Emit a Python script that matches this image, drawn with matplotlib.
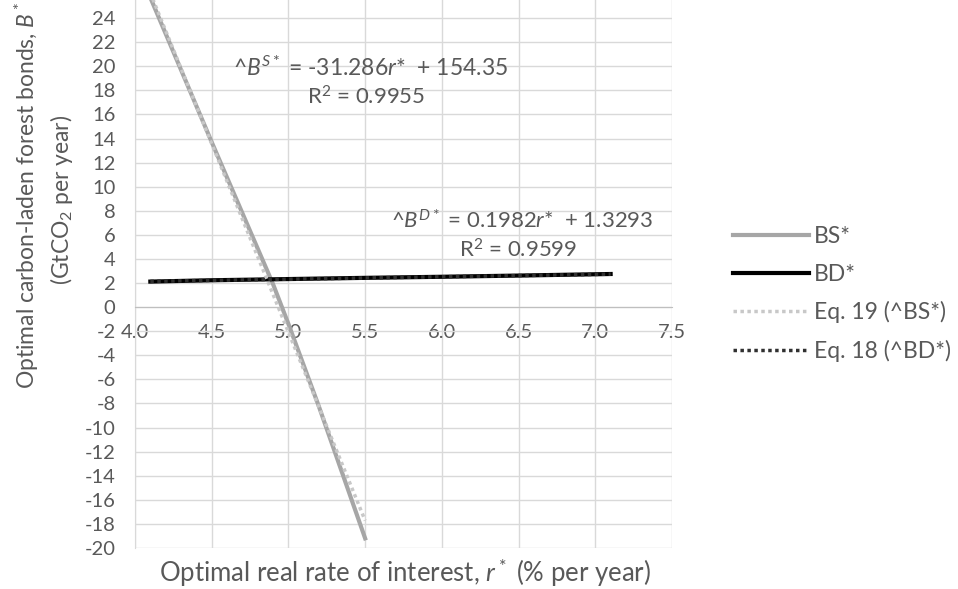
import matplotlib.pyplot as plt
import numpy as np

# tasa real de interes optima (r*) y bonos optimos (B*)
r_bs = [4.10, 4.30, 4.50, 4.70, 4.90, 5.00, 5.20, 5.50]
bs = [25.7, 19.7, 13.7, 7.8, 1.9, -1.4, -8.3, -19.2]

r_bd = [4.10, 4.50, 5.00, 5.50, 6.00, 6.50, 7.10]
bd = [2.12, 2.23, 2.33, 2.43, 2.52, 2.62, 2.75]

# coeficientes de las rectas ajustadas (Eq. 19 y Eq. 18)
bs_slope, bs_icpt, bs_r2 = -31.286, 154.35, 0.9955
bd_slope, bd_icpt, bd_r2 = 0.1982, 1.3293, 0.9599

x_ticks = [4.0, 4.5, 5.0, 5.5, 6.0, 6.5, 7.0, 7.5]
y_ticks = list(range(-20, 25, 2))

plt.rcParams['font.family'] = ['Lato', 'DejaVu Sans']
plt.rcParams['mathtext.fontset'] = 'custom'
plt.rcParams['mathtext.rm'] = 'Lato'
plt.rcParams['mathtext.it'] = 'Lato:italic'
plt.rcParams['axes.unicode_minus'] = False  # guion simple en los negativos
txt = '#595959'

fig = plt.figure(figsize=(9.58, 5.89), dpi=100)
ax = fig.add_axes([135 / 958, 1 - 548 / 589, (672 - 135) / 958, 548 / 589])

ax.plot(r_bs, bs, color='#a6a6a6', lw=3, label='BS*', zorder=3)
ax.plot(r_bd, bd, color='black', lw=3, label='BD*', zorder=3)

xf = np.array([r_bs[0], r_bs[-1]])
ax.plot(xf, bs_slope * xf + bs_icpt, color='#c8c8c8', lw=2.5,
        ls=(0, (1, 1)), label='Eq. 19 (^BS*)', zorder=4)
xf = np.array([r_bd[0], r_bd[-1]])
ax.plot(xf, bd_slope * xf + bd_icpt, color='#303030', lw=2.5,
        ls=(0, (1, 1)), label='Eq. 18 (^BD*)', zorder=4)

ax.set_xlim(4.0, 7.5)
ax.set_ylim(-20, 25.5)
ax.set_xticks(x_ticks)
ax.set_xticklabels([f'{v:.1f}' for v in x_ticks])
ax.set_yticks(y_ticks)
ax.grid(True, color='#d9d9d9', lw=1)
ax.set_axisbelow(True)

# eje x cruza en y = 0, como en Excel
ax.spines['bottom'].set_position(('data', 0))
ax.spines['bottom'].set_color('#bfbfbf')
ax.spines['left'].set_color('#d9d9d9')
ax.spines['top'].set_visible(False)
ax.spines['right'].set_visible(False)
ax.tick_params(axis='x', length=0, pad=12, labelsize=14.5, labelcolor=txt)
ax.tick_params(axis='y', length=0, pad=14, labelsize=14.5, labelcolor=txt)

# ecuaciones de las rectas
px = lambda x: 4.0 + (x - 135) / 153.4
py = lambda y: (307 - y) / 12.05
ax.text(px(370), py(68),
        f'^$B^{{S*}}$ = {bs_slope}$r$*  + {bs_icpt}',
        ha='center', va='center', fontsize=16.5, color=txt)
ax.text(px(366), py(97),
        f'R$^2$ = {bs_r2}', ha='center', va='center', fontsize=16, color=txt)
ax.text(px(522), py(220),
        f'^$B^{{D*}}$ = {bd_slope}$r$*  + {bd_icpt}',
        ha='center', va='center', fontsize=16, color=txt)
ax.text(px(518), py(250),
        f'R$^2$ = {bd_r2}', ha='center', va='center', fontsize=16, color=txt)

fig.text(405 / 958, 1 - 573 / 589,
         'Optimal real rate of interest, $r^*$ (% per year)',
         ha='center', va='center', fontsize=18.5, color=txt)
fig.text(27 / 958, 1 - 195 / 589, 'Optimal carbon-laden forest bonds, $B^*$',
         ha='center', va='center', rotation=90, fontsize=16.5, color=txt)
fig.text(62 / 958, 1 - 200 / 589, '(GtCO$_2$ per year)',
         ha='center', va='center', rotation=90, fontsize=16.5, color=txt)

leg = fig.legend(loc='center left', bbox_to_anchor=(733 / 958, 1 - 294 / 589),
                 frameon=False, fontsize=16.5, handlelength=3.3,
                 handletextpad=0.22, labelspacing=0.72, borderpad=0,
                 borderaxespad=0)
for t in leg.get_texts():
    t.set_color(txt)

fig.savefig('out.png', dpi=100)
